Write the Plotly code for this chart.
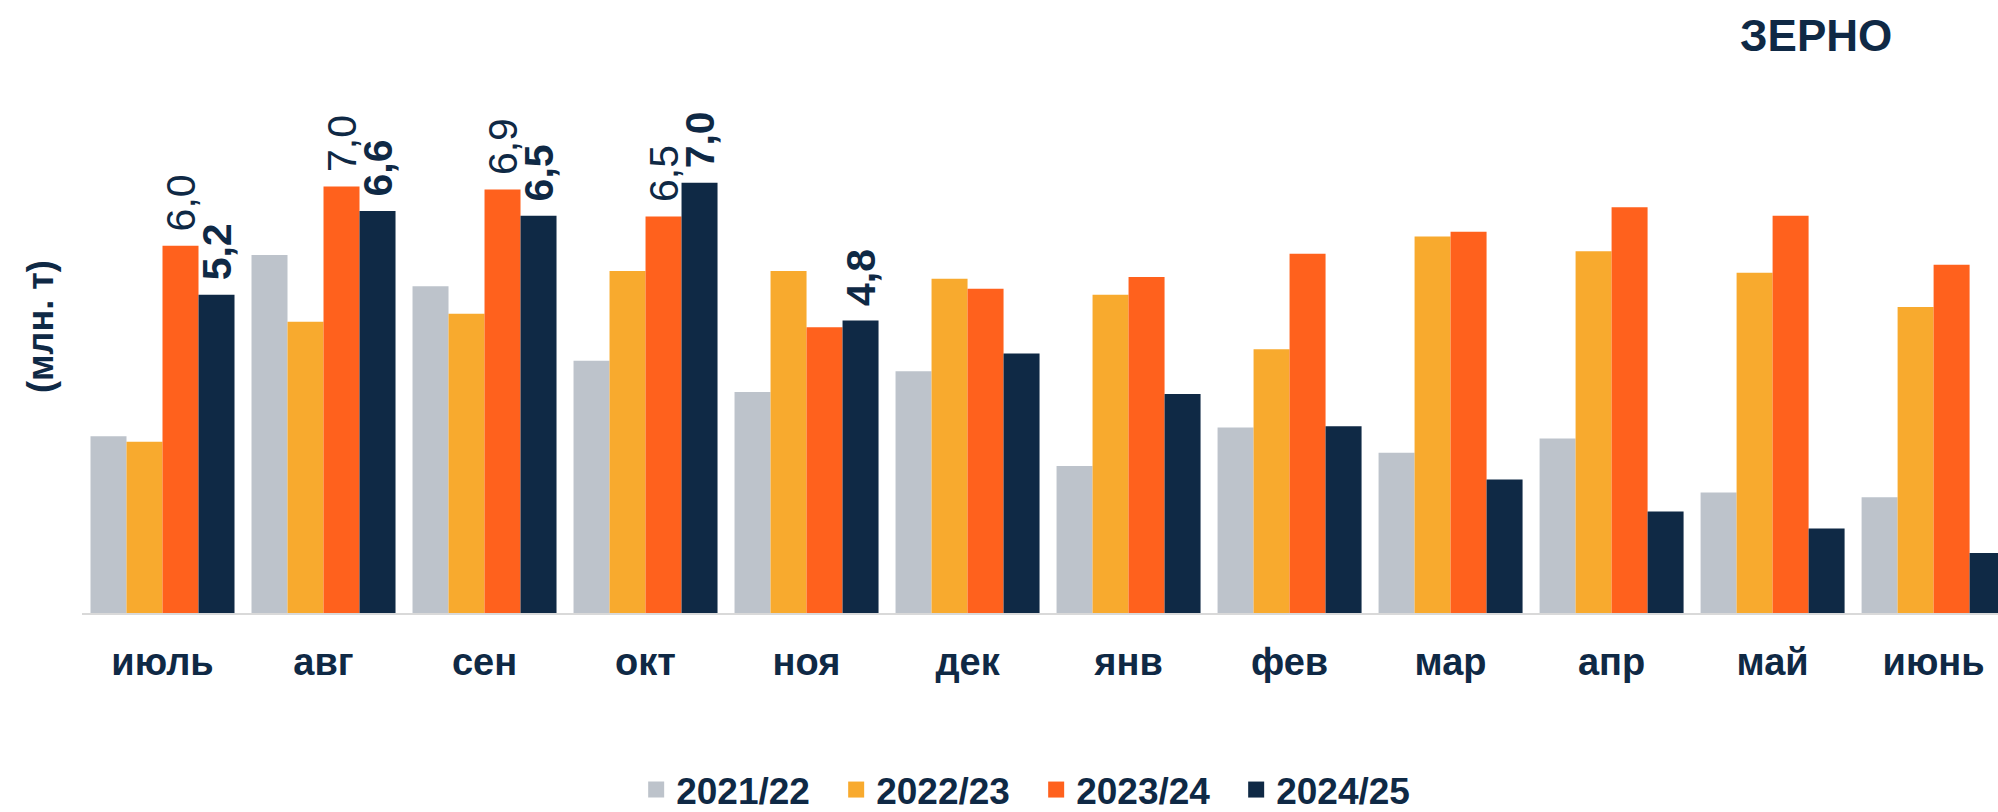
import plotly.graph_objects as go

months = ["июль", "авг", "сен", "окт", "ноя", "дек", "янв", "фев", "мар", "апр", "май", "июнь"]
series_names = ["2021/22", "2022/23", "2023/24", "2024/25"]

v2122 = [2.89, 5.85, 5.34, 4.12, 3.61, 3.95, 2.40, 3.03, 2.62, 2.85, 1.97, 1.89]
v2223 = [2.80, 4.76, 4.89, 5.59, 5.59, 5.46, 5.20, 4.31, 6.15, 5.91, 5.56, 5.00]
v2324 = [6.00, 6.97, 6.92, 6.48, 4.67, 5.30, 5.49, 5.87, 6.23, 6.63, 6.49, 5.69]
v2425 = [5.20, 6.57, 6.49, 7.03, 4.78, 4.24, 3.58, 3.05, 2.18, 1.66, 1.38, 0.98]

labels_2324 = ["6,0", "7,0", "6,9", "6,5", "", "", "", "", "", "", "", ""]
labels_2425 = ["5,2", "6,6", "6,5", "7,0", "4,8", "", "", "", "", "", "", ""]

colors = ["#BDC3CB", "#F8AA2E", "#FF611D", "#0F2945"]
NAVY = "#0F2945"
FONT = "Liberation Sans, Arial, sans-serif"

values = [v2122, v2223, v2324, v2425]
labels = [None, None, labels_2324, labels_2425]
weights = ["normal", "normal", "normal", "bold"]

FIG_H = 850          # taller than the window; the bottom part is cropped like the reference
PLOT_TOP, BASE_Y = 60, 613
PX_PER_UNIT = 61.2
plot_h = BASE_Y - PLOT_TOP

fig = go.Figure()
for name, vals, col, lab, w in zip(series_names, values, colors, labels, weights):
    kw = {}
    if lab is not None:
        kw = dict(
            text=["\u00a0" + t if t else "" for t in lab],
            textposition="outside",
            textangle=-90,
            constraintext="none",
            cliponaxis=False,
            textfont=dict(family=FONT, size=41, color=NAVY, weight=w),
        )
    fig.add_trace(go.Bar(
        x=months, y=vals, name=name, marker=dict(color=col, line=dict(width=0)),
        showlegend=False, hoverinfo="skip", **kw
    ))

for name, col in zip(series_names, colors):
    fig.add_trace(go.Scatter(
        x=[None], y=[None], mode="markers", name=name,
        marker=dict(symbol="square", size=18, color=col), showlegend=True,
    ))

fig.update_layout(
    width=1998, height=FIG_H,
    margin=dict(l=82, r=0, t=PLOT_TOP, b=FIG_H - BASE_Y),
    paper_bgcolor="white", plot_bgcolor="white",
    barmode="group", bargap=0.1056, bargroupgap=0,
    title=dict(text="ЗЕРНО", x=0.909, xanchor="center", y=1 - 36 / FIG_H, yanchor="middle",
               font=dict(family=FONT, size=44, color=NAVY, weight="bold")),
    xaxis=dict(type="category", range=[-0.5, 11.4], showline=True, linecolor="#D9D9D9",
               linewidth=2, showgrid=False, zeroline=False, ticks="",
               tickfont=dict(family=FONT, size=38, color=NAVY, weight="bold"),
               ticklabelstandoff=14),
    yaxis=dict(range=[0, plot_h / PX_PER_UNIT], visible=False, showgrid=False, zeroline=False),
    legend=dict(orientation="h", x=0.498, xanchor="center", y=-(790 - BASE_Y) / plot_h,
                yanchor="middle",
                font=dict(family=FONT, size=37, color=NAVY, weight="bold"),
                entrywidth=155, bgcolor="rgba(0,0,0,0)"),
    annotations=[dict(text="(млн. т)", xref="paper", yref="paper", x=(40 - 82) / 1916,
                      y=(BASE_Y - 327) / plot_h, textangle=-90, showarrow=False,
                      xanchor="center", yanchor="middle",
                      font=dict(family=FONT, size=36, color=NAVY, weight="bold"))],
)

fig.write_html(
    "out.html",
    config={"displayModeBar": False},
    post_script="document.body.style.margin='0';document.body.style.overflow='hidden';",
)
